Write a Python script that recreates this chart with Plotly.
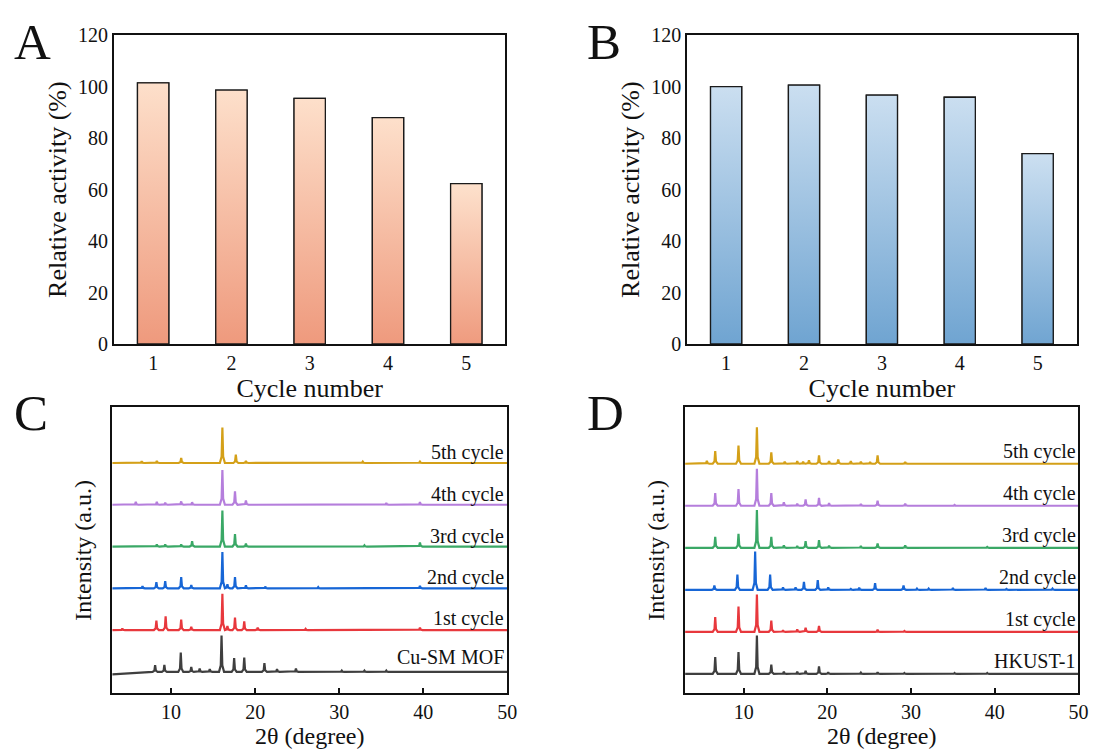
import plotly.graph_objects as go

# ---------------- data ----------------
cycles = [1, 2, 3, 4, 5]
activity_A = [101.5, 98.7, 95.5, 88.0, 62.3]
activity_B = [100.0, 100.6, 96.7, 95.9, 74.0]

# XRD patterns (C): peak positions (2θ, degree) and heights (a.u., trace spacing = 1)
labels_C = ["Cu-SM MOF", "1st cycle", "2nd cycle", "3rd cycle", "4th cycle", "5th cycle"]
start_C = [-0.06, 0.0, 0.0, 0.0, 0.0, 0.0]
pos_C = [
    [8.1, 9.2, 11.15, 12.4, 13.4, 14.6, 16.0, 17.5, 18.7, 21.1, 22.6, 24.85, 30.3, 33.0, 35.6],
    [4.2, 8.25, 9.35, 11.2, 12.4, 16.1, 16.7, 17.6, 18.7, 20.3, 26.0, 39.6],
    [6.6, 8.25, 9.3, 11.2, 12.4, 16.1, 16.7, 17.6, 18.9, 21.2, 27.5, 39.6],
    [8.3, 9.3, 11.2, 12.5, 16.1, 17.6, 18.9, 33.0, 39.6],
    [5.8, 8.3, 9.3, 11.2, 12.5, 16.1, 17.6, 18.9, 35.6, 39.6],
    [6.5, 8.3, 11.2, 16.1, 17.7, 18.9, 32.8, 39.6],
]
hgt_C = [
    [0.16, 0.17, 0.46, 0.12, 0.08, 0.07, 0.87, 0.33, 0.34, 0.21, 0.07, 0.08, 0.03, 0.03, 0.03],
    [0.04, 0.23, 0.33, 0.25, 0.08, 0.87, 0.10, 0.30, 0.21, 0.06, 0.03, 0.06],
    [0.05, 0.15, 0.17, 0.27, 0.08, 0.87, 0.10, 0.27, 0.07, 0.04, 0.03, 0.06],
    [0.05, 0.05, 0.05, 0.13, 0.86, 0.30, 0.07, 0.03, 0.10],
    [0.07, 0.07, 0.05, 0.08, 0.06, 0.83, 0.32, 0.10, 0.04, 0.06],
    [0.04, 0.05, 0.12, 0.85, 0.20, 0.05, 0.03, 0.03],
]

# XRD patterns (D)
labels_D = ["HKUST-1", "1st cycle", "2nd cycle", "3rd cycle", "4th cycle", "5th cycle"]
start_D = [0.0, 0.0, 0.0, 0.0, 0.0, 0.0]
pos_D = [
    [6.6, 9.38, 11.58, 13.3, 14.8, 16.4, 17.4, 19.0, 20.1, 24.0, 26.0, 29.2, 35.2, 39.1],
    [6.6, 9.38, 11.58, 13.3, 14.7, 16.4, 17.4, 19.0, 26.0, 29.2],
    [6.5, 9.25, 11.37, 13.16, 14.7, 16.2, 17.2, 18.85, 20.1, 22.8, 23.8, 25.7, 29.1, 30.7, 32.1, 35.0, 38.9, 41.4, 46.9],
    [6.6, 9.38, 11.58, 13.3, 14.8, 16.4, 17.4, 19.0, 20.2, 24.0, 26.0, 29.3, 39.1],
    [6.6, 9.38, 11.58, 13.3, 14.8, 16.4, 17.4, 19.0, 20.2, 24.0, 26.0, 29.3, 35.2],
    [5.6, 6.6, 9.38, 11.58, 13.3, 14.9, 16.4, 17.1, 17.8, 19.0, 20.2, 21.3, 22.8, 24.0, 25.1, 26.0, 29.3],
]
hgt_D = [
    [0.40, 0.52, 0.91, 0.22, 0.05, 0.05, 0.07, 0.18, 0.04, 0.03, 0.04, 0.02, 0.02, 0.02],
    [0.35, 0.60, 0.89, 0.27, 0.04, 0.06, 0.10, 0.14, 0.05, 0.02],
    [0.10, 0.36, 0.91, 0.36, 0.06, 0.06, 0.19, 0.23, 0.06, 0.02, 0.05, 0.16, 0.10, 0.03, 0.03, 0.04, 0.04, 0.02, 0.03],
    [0.26, 0.33, 0.90, 0.26, 0.06, 0.04, 0.16, 0.18, 0.05, 0.04, 0.10, 0.06, 0.02],
    [0.30, 0.40, 0.88, 0.30, 0.08, 0.05, 0.15, 0.19, 0.06, 0.04, 0.12, 0.05, 0.02],
    [0.07, 0.30, 0.43, 0.87, 0.27, 0.05, 0.06, 0.05, 0.08, 0.20, 0.06, 0.10, 0.06, 0.05, 0.04, 0.20, 0.04],
]

offsets = [0, 1, 2, 3, 4, 5]
colors = ["#3f3f3f", "#e8383d", "#1766d6", "#3aa866", "#b57edc", "#d4a018"]
x_range = [3, 50]

# ---------------- style ----------------
FONT = "Liberation Serif"
TXT = "#111111"
PEAK_DX = [-0.3, -0.09, 0.0, 0.09, 0.3]   # peak outline shape (style)
PEAK_FR = [0.0, 0.18, 1.0, 0.18, 0.0]


def pattern_xy(pos, hgt, start, off):
    xs, ys = [x_range[0]], [start + off]
    for p, h in zip(pos, hgt):
        for dx, fr in zip(PEAK_DX, PEAK_FR):
            xs.append(p + dx)
            ys.append(off + fr * h)
    xs.append(x_range[1])
    ys.append(off)
    return xs, ys


fig = go.Figure()

# ---- bars A / B : bar trace + vertical gradient fill drawn on top with outline ----
def add_bars(vals, xa, ya, c_bot, c_top):
    fig.add_trace(go.Bar(
        x=cycles, y=vals, width=0.4,
        marker=dict(color=c_bot, line=dict(color="#1a1a1a", width=1.3)),
        xaxis=xa, yaxis=ya, showlegend=False))
    for c, v in zip(cycles, vals):
        fig.add_trace(go.Scatter(
            x=[c - 0.2, c + 0.2, c + 0.2, c - 0.2, c - 0.2],
            y=[0, 0, v, v, 0],
            mode="lines", line=dict(width=1.3, color="#1a1a1a"), fill="toself",
            fillgradient=dict(type="vertical", colorscale=[[0, c_bot], [1, c_top]],
                              start=0, stop=v),
            xaxis=xa, yaxis=ya, showlegend=False, hoverinfo="skip"))


add_bars(activity_A, "x", "y", "#ee977a", "#fddfca")
add_bars(activity_B, "x2", "y2", "#6ca2d0", "#cadef0")

# ---- XRD C / D ----
for i in range(6):
    xs, ys = pattern_xy(pos_C[i], hgt_C[i], start_C[i], offsets[i])
    fig.add_trace(go.Scatter(x=xs, y=ys, mode="lines", line=dict(color=colors[i], width=2.2),
                             xaxis="x3", yaxis="y3", showlegend=False, name=labels_C[i]))
    xs, ys = pattern_xy(pos_D[i], hgt_D[i], start_D[i], offsets[i])
    fig.add_trace(go.Scatter(x=xs, y=ys, mode="lines", line=dict(color=colors[i], width=2.2),
                             xaxis="x4", yaxis="y4", showlegend=False, name=labels_D[i]))

annotations = []
lab_off_C = [0.36, 0.27, 0.26, 0.25, 0.25, 0.25]
for i in range(6):
    annotations.append(dict(x=49.65, y=offsets[i] + lab_off_C[i], xref="x3", yref="y3",
                            text=labels_C[i], showarrow=False, xanchor="right", yanchor="middle",
                            xshift=2, font=dict(family=FONT, size=20, color=TXT)))
    annotations.append(dict(x=49.55, y=offsets[i] + 0.30, xref="x4", yref="y4",
                            text=labels_D[i], showarrow=False, xanchor="right", yanchor="middle",
                            xshift=3, font=dict(family=FONT, size=20, color=TXT)))

for letter, px, py in [("A", 0.011, 0.999), ("B", 0.535, 0.999),
                       ("C", 0.011, 0.4930), ("D", 0.535, 0.4930)]:
    annotations.append(dict(x=px, y=py, xref="paper", yref="paper", text=letter,
                            showarrow=False, xanchor="left", yanchor="top",
                            font=dict(family=FONT, size=51, color=TXT)))

axis_common = dict(showline=True, mirror=True, linecolor="#111111", linewidth=1.8,
                   showgrid=False, zeroline=False,
                   tickfont=dict(family=FONT, size=20, color=TXT))

bar_x = dict(axis_common, range=[0.5, 5.5], tickvals=cycles, ticks="",
             title=dict(text="Cycle number", font=dict(family=FONT, size=26, color=TXT), standoff=4))
bar_y = dict(axis_common, range=[0, 120], dtick=20, ticks="",
             title=dict(text="Relative activity (%)", font=dict(family=FONT, size=26, color=TXT), standoff=4))
xrd_x = dict(axis_common, range=x_range, tickvals=[10, 20, 30, 40, 50], ticks="inside",
             ticklen=5, tickwidth=1.5, tickcolor="#111111",
             title=dict(text="2θ (degree)", font=dict(family=FONT, size=24, color=TXT), standoff=0))
xrd_y = dict(axis_common, showticklabels=False, ticks="",
             title=dict(text="Intensity (a.u.)", font=dict(family=FONT, size=24, color=TXT), standoff=12))

fig.update_layout(
    width=1103, height=755,
    margin=dict(l=0, r=0, t=0, b=0),
    paper_bgcolor="white", plot_bgcolor="white",
    font=dict(family=FONT, color=TXT),
    xaxis=dict(bar_x, domain=[0.1043, 0.4624], anchor="y"),
    yaxis=dict(bar_y, domain=[0.5457, 0.9669], anchor="x"),
    xaxis2=dict(bar_x, domain=[0.6287, 0.9850], anchor="y2"),
    yaxis2=dict(bar_y, domain=[0.5457, 0.9669], anchor="x2"),
    xaxis3=dict(xrd_x, domain=[0.1027, 0.4642], anchor="y3"),
    yaxis3=dict(xrd_y, domain=[0.0693, 0.4592], range=[-0.51, 6.33], anchor="x3"),
    xaxis4=dict(xrd_x, domain=[0.6268, 0.9867], anchor="y4"),
    yaxis4=dict(xrd_y, domain=[0.0693, 0.4592], range=[-0.46, 6.34], anchor="x4"),
    annotations=annotations,
)

fig.write_html("out.html")
